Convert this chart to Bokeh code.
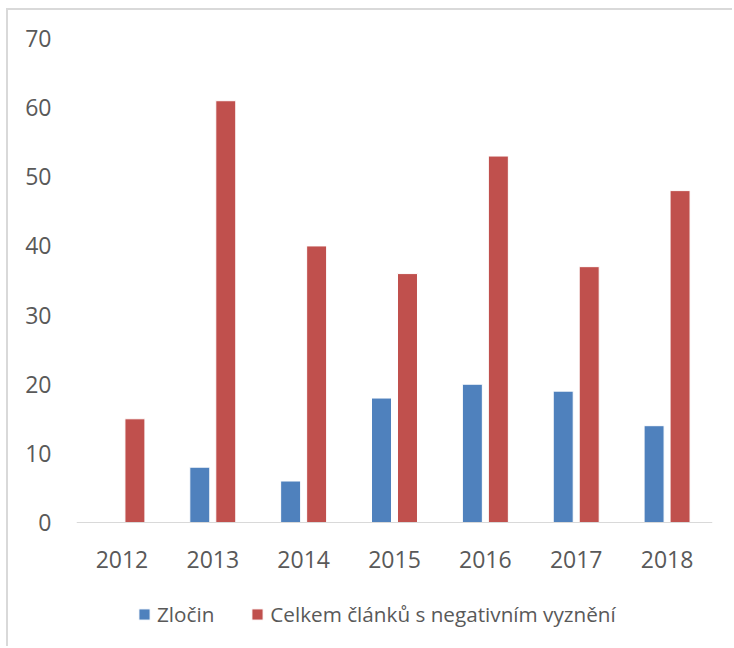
from bokeh.plotting import figure
from bokeh.models import Range1d, FactorRange, ColumnDataSource, Legend, LegendItem, FixedTicker, Span
from bokeh.transform import dodge
from bokeh.core.properties import value
from bokeh.embed import file_html
from bokeh.resources import INLINE

years = ["2012", "2013", "2014", "2015", "2016", "2017", "2018"]
zlocin = [0, 8, 6, 18, 20, 19, 14]
celkem = [15, 61, 40, 36, 53, 37, 48]
series_names = ["Zločin", "Celkem článků s negativním vyznění"]
y_ticks = [0, 10, 20, 30, 40, 50, 60, 70]

FONT = "Open Sans"
TXT = "#595959"

W, H = 726, 638
BL, BR, BT, BB = 68, 22, 28, 2
frame_h = H - BT - BB
plot_px = 484.0                      # pixel height of the 0..70 value span
ppu = plot_px / (y_ticks[-1] - y_ticks[0])
y_min = -(frame_h - plot_px) / ppu

src = ColumnDataSource(dict(year=years, zlocin=zlocin, celkem=celkem,
                            lab_y=[-37.0 / ppu] * len(years)))

p = figure(width=W, height=H, output_backend="svg", toolbar_location=None,
           x_range=FactorRange(*years), y_range=Range1d(y_min, y_ticks[-1]),
           min_border_left=BL, min_border_right=BR, min_border_top=BT, min_border_bottom=BB)
p.styles = {"margin-left": "6px", "margin-top": "8px",
            "border-left": "2px solid #D9D9D9", "border-top": "2px solid #D9D9D9"}
p.outline_line_color = None
p.xgrid.grid_line_color = None
p.ygrid.grid_line_color = None
p.xaxis.visible = False

r1 = p.vbar(x=dodge("year", -0.143, range=p.x_range), top="zlocin", bottom=0, width=0.22, source=src,
            fill_color="#4F81BD", line_color="white", line_width=1)
r2 = p.vbar(x=dodge("year", 0.143, range=p.x_range), top="celkem", bottom=0, width=0.22, source=src,
            fill_color="#C0504D", line_color="white", line_width=1)

p.add_layout(Span(location=0, dimension="width", line_color="#D9D9D9", line_width=1))

p.text(x="year", y="lab_y", text="year", source=src, text_align="center", text_baseline="middle",
       text_font=value(FONT), text_font_size="23px", text_color=TXT)

ya = p.yaxis[0]
ya.ticker = FixedTicker(ticks=y_ticks)
ya.axis_line_color = None
ya.major_tick_line_color = None
ya.minor_tick_line_color = None
ya.major_tick_in = 0
ya.major_tick_out = 0
ya.major_label_text_font = FONT
ya.major_label_text_font_size = "23px"
ya.major_label_text_color = TXT
ya.major_label_standoff = 25

legend = Legend(items=[LegendItem(label=series_names[0], renderers=[r1]),
                       LegendItem(label=series_names[1], renderers=[r2])],
                orientation="horizontal", location=(61, 18),
                padding=0, margin=0, spacing=36, label_standoff=6,
                glyph_width=14, glyph_height=14,
                label_text_font=FONT, label_text_font_size="20.7px", label_text_color=TXT,
                border_line_color=None, background_fill_alpha=0)
p.add_layout(legend, "center")

open("out.html", "w").write(file_html(p, INLINE))
